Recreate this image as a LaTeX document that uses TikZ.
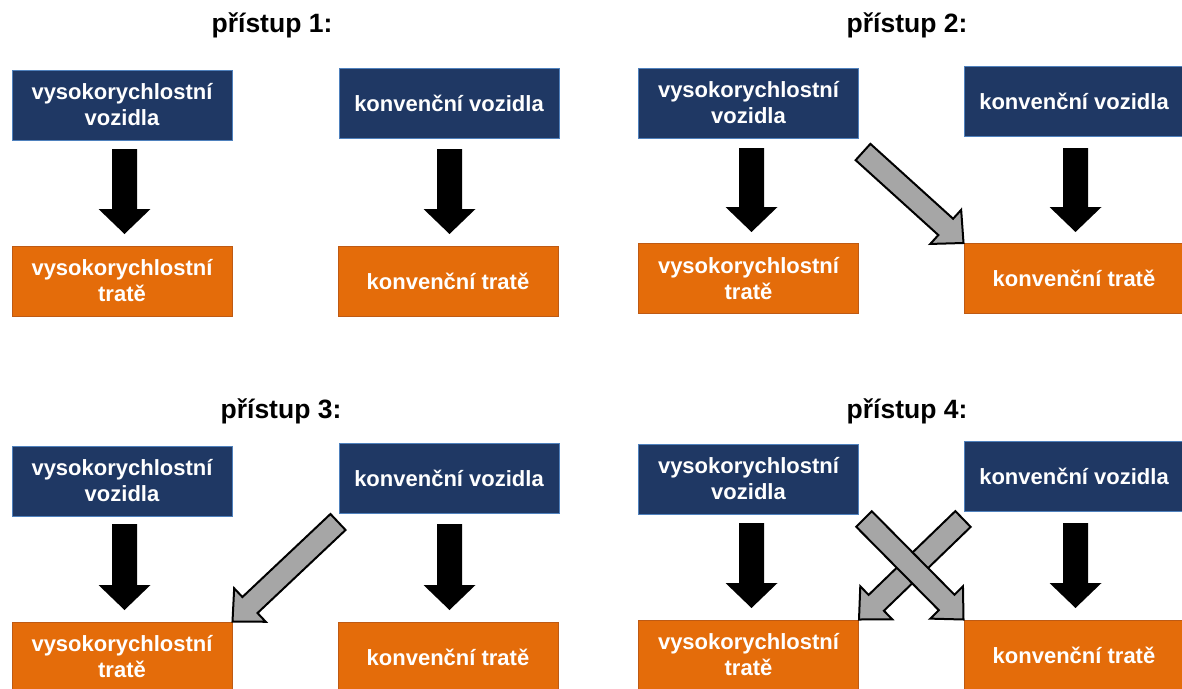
\documentclass[tikz,border=0pt]{standalone}
\usepackage{fontspec}
\setmainfont{Liberation Sans}
\usetikzlibrary{calc}
\definecolor{navy}{RGB}{31,56,100}
\definecolor{navyedge}{RGB}{79,129,189}
\definecolor{orng}{RGB}{228,108,10}
\definecolor{orngedge}{RGB}{190,90,20}
\definecolor{arrgray}{RGB}{166,166,166}
% block arrow: #1 style, #2 from, #3 to, #4 half shaft, #5 half head, #6 head length
\newcommand\blockarrow[6]{%
  \coordinate (bam) at ($(#3)!#6!(#2)$);
  \path[#1] ($(#2)!#4!90:(#3)$) -- ($(bam)!#4!90:(#3)$) -- ($(bam)!#5!90:(#3)$)
    -- (#3) -- ($(bam)!#5!-90:(#3)$) -- ($(bam)!#4!-90:(#3)$) -- ($(#2)!#4!-90:(#3)$) -- cycle;
}
\tikzset{
  vbox/.style={draw=navyedge, line width=1pt, fill=navy, text=white, minimum width=220pt,
    minimum height=70pt, inner sep=0pt, align=center, font=\bfseries\fontsize{22}{26}\selectfont},
  tbox/.style={vbox, draw=orngedge, fill=orng},
  ttl/.style={font=\bfseries\fontsize{26.5}{30}\selectfont, anchor=base, inner sep=0pt},
  blackarr/.style={fill=black},
  grayarr/.style={fill=arrgray, draw=black, line width=2pt, line join=miter},
}
\begin{document}
\begin{tikzpicture}[x=1pt,y=-1pt]
\useasboundingbox (0,0) rectangle (1182,688);
\begin{scope}
\clip (0,0) rectangle (1182,688);
% ---------- panel 1
\node[ttl] (t1) at (272,32) {přístup 1:};
\node[vbox] (hv1) at (122,105) {vysokorychlostní\\vozidla};
\node[vbox] (kv1) at (449,103) {konvenční vozidla};
\node[tbox] (ht1) at (122,281) {vysokorychlostní\\tratě};
\node[tbox] (kt1) at (448,281) {konvenční tratě};
\coordinate (a1s) at (124.5,149); \coordinate (a1e) at (124.5,234);
\coordinate (b1s) at (449.5,149); \coordinate (b1e) at (449.5,234);
\blockarrow{blackarr}{a1s}{a1e}{12.5pt}{26pt}{25pt}
\blockarrow{blackarr}{b1s}{b1e}{12.5pt}{26pt}{25pt}
% ---------- panel 2
\node[ttl] (t2) at (907,32) {přístup 2:};
\node[vbox] (hv2) at (748.5,103) {vysokorychlostní\\vozidla};
\node[vbox] (kv2) at (1074,101) {konvenční vozidla};
\node[tbox] (ht2) at (748.5,278.5) {vysokorychlostní\\tratě};
\node[tbox] (kt2) at (1074,278.5) {konvenční tratě};
\coordinate (a2s) at (751.5,148); \coordinate (a2e) at (751.5,232);
\coordinate (b2s) at (1075.5,148); \coordinate (b2e) at (1075.5,232);
\blockarrow{blackarr}{a2s}{a2e}{12.5pt}{26pt}{25pt}
\blockarrow{blackarr}{b2s}{b2e}{12.5pt}{26pt}{25pt}
\coordinate (g2s) at (863,152);
\blockarrow{grayarr}{g2s}{kt2.north west}{11pt}{23pt}{24pt}
% ---------- panel 3
\node[ttl] (t3) at (281,418) {přístup 3:};
\node[vbox] (hv3) at (122,481) {vysokorychlostní\\vozidla};
\node[vbox] (kv3) at (449,478) {konvenční vozidla};
\node[tbox] (ht3) at (122,657) {vysokorychlostní\\tratě};
\node[tbox] (kt3) at (448,657) {konvenční tratě};
\coordinate (a3s) at (124.5,524); \coordinate (a3e) at (124.5,610);
\coordinate (b3s) at (449.5,524); \coordinate (b3e) at (449.5,610);
\blockarrow{blackarr}{a3s}{a3e}{12.5pt}{26pt}{25pt}
\blockarrow{blackarr}{b3s}{b3e}{12.5pt}{26pt}{25pt}
\coordinate (g3s) at (338,522);
\blockarrow{grayarr}{g3s}{ht3.north east}{11pt}{23pt}{24pt}
% ---------- panel 4
\node[ttl] (t4) at (907,418) {přístup 4:};
\node[vbox] (hv4) at (748.5,479) {vysokorychlostní\\vozidla};
\node[vbox] (kv4) at (1074,476) {konvenční vozidla};
\node[tbox] (ht4) at (748.5,655) {vysokorychlostní\\tratě};
\node[tbox] (kt4) at (1074,655) {konvenční tratě};
\coordinate (a4s) at (751.5,523); \coordinate (a4e) at (751.5,608);
\coordinate (b4s) at (1075.5,523); \coordinate (b4e) at (1075.5,608);
\blockarrow{blackarr}{a4s}{a4e}{12.5pt}{26pt}{25pt}
\blockarrow{blackarr}{b4s}{b4e}{12.5pt}{26pt}{25pt}
\coordinate (g4bs) at (963,519);
\coordinate (g4as) at (864,519);
\blockarrow{grayarr}{g4bs}{ht4.north east}{11pt}{23pt}{24pt}
\blockarrow{grayarr}{g4as}{kt4.north west}{11pt}{23pt}{24pt}
\end{scope}
\end{tikzpicture}
\end{document}
